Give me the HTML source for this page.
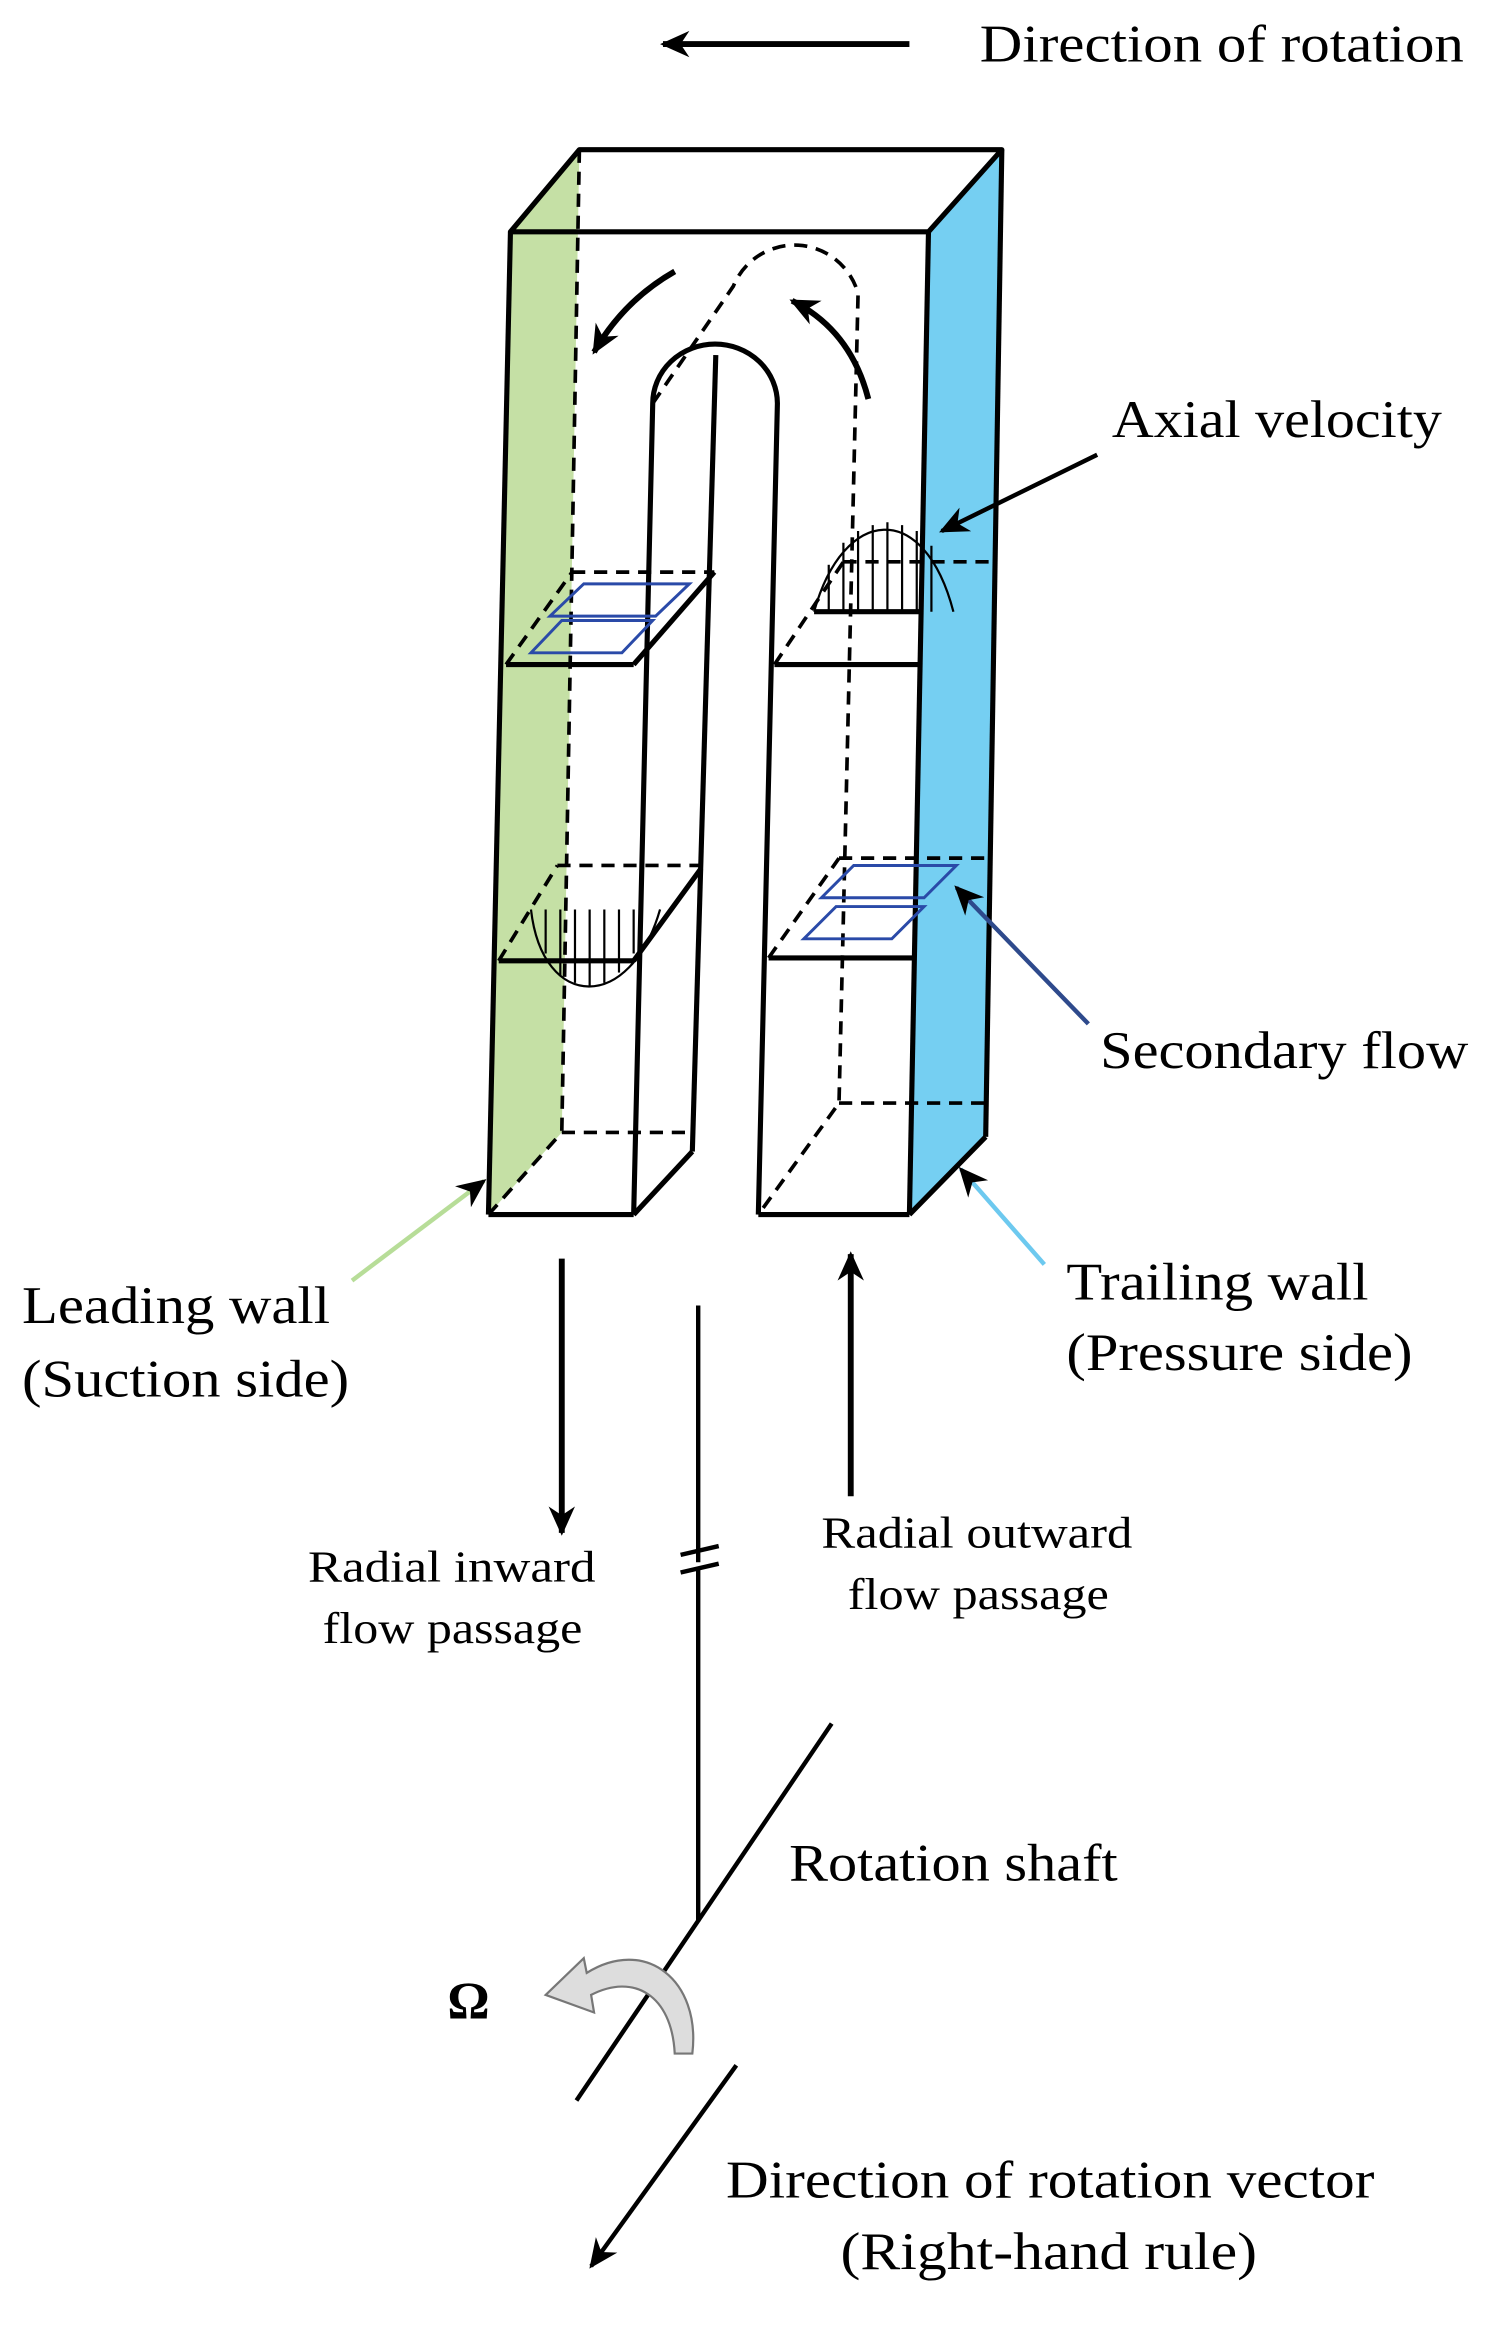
<!DOCTYPE html>
<html><head><meta charset="utf-8"><style>
html,body{margin:0;padding:0;background:#fff;}
svg{display:block;}
text{font-family:"Liberation Serif",serif;fill:#000;}
</style></head><body>
<svg width="1502" height="2325" viewBox="0 0 1024 1585" xmlns="http://www.w3.org/2000/svg">
<defs>
<marker id="ahb" markerWidth="22" markerHeight="22" refX="18" refY="11" orient="auto" markerUnits="userSpaceOnUse"><path d="M0,2 L20,11 L0,20 L6,11 z" fill="#000"/></marker>
</defs>
<polygon points="348,160 395,102 383,772 333,828" fill="#c5e0a5"/>
<polygon points="633,158 683,102 672,775 620,828" fill="#75cff2"/>
<g stroke="#000" stroke-width="3.5" fill="none" stroke-linejoin="round">
<polygon points="348,158 395,102 683,102 633,158"/>
<line x1="348" y1="158" x2="333" y2="828"/>
<line x1="633" y1="158" x2="620" y2="828"/>
<line x1="683" y1="102" x2="672" y2="775"/>
<line x1="333" y1="828" x2="432" y2="828"/>
<line x1="432" y1="828" x2="472" y2="785"/>
<line x1="517" y1="828" x2="620" y2="828"/>
<line x1="620" y1="828" x2="672" y2="775"/>
<path d="M432,828 L445,275 A42,40 0 0 1 530,275 L517,828"/>
<line x1="472" y1="785" x2="488" y2="242"/>
<line x1="345" y1="453" x2="432" y2="453"/>
<line x1="528" y1="453" x2="628" y2="453"/>
<line x1="340" y1="655" x2="432" y2="655"/>
<line x1="524" y1="653" x2="624" y2="653"/>
<line x1="432" y1="453" x2="487" y2="390"/>
<line x1="432" y1="655" x2="478" y2="592"/>
<line x1="555" y1="417" x2="628" y2="417"/>
</g>
<g stroke="#000" stroke-width="2.5" fill="none" stroke-dasharray="9,6">
<line x1="395" y1="102" x2="383" y2="772"/>
<line x1="383" y1="772" x2="472" y2="772"/>
<line x1="333" y1="828" x2="383" y2="772"/>
<path d="M445,275 L500,195 A45,45 0 0 1 585,200 L572,752 L517,828"/>
<line x1="572" y1="752" x2="672" y2="752"/>
<line x1="390" y1="390" x2="487" y2="390"/>
<line x1="345" y1="453" x2="390" y2="390"/>
<line x1="380" y1="590" x2="478" y2="590"/>
<line x1="340" y1="655" x2="380" y2="590"/>
<line x1="575" y1="383" x2="675" y2="383"/>
<line x1="528" y1="453" x2="575" y2="383"/>
<line x1="572" y1="585" x2="674" y2="585"/>
<line x1="524" y1="653" x2="572" y2="585"/>
</g>
<g stroke="#2a4aa8" stroke-width="2" fill="none">
<polygon points="375,420 398,398 470,398 447,420"/>
<polygon points="362,445 383,423 445,423 424,445"/>
<polygon points="560,612 582,590 652,590 630,612"/>
<polygon points="548,640 570,618 630,618 608,640"/>
</g>
<g stroke="#000" stroke-width="1.5" fill="none">
<path d="M555,417 C575,345 630,340 650,417"/>
<path d="M362,620 C370,690 430,690 450,620"/>
<line x1="565" y1="385" x2="565" y2="417"/><line x1="575" y1="370" x2="575" y2="417"/><line x1="585" y1="362" x2="585" y2="417"/><line x1="595" y1="358" x2="595" y2="417"/><line x1="605" y1="356" x2="605" y2="417"/><line x1="615" y1="358" x2="615" y2="417"/><line x1="625" y1="362" x2="625" y2="417"/><line x1="635" y1="372" x2="635" y2="417"/>
<line x1="372" y1="620" x2="372" y2="650"/><line x1="382" y1="620" x2="382" y2="665"/><line x1="392" y1="620" x2="392" y2="670"/><line x1="402" y1="620" x2="402" y2="672"/><line x1="412" y1="620" x2="412" y2="670"/><line x1="422" y1="620" x2="422" y2="663"/><line x1="432" y1="620" x2="432" y2="650"/>
</g>
<g stroke="#000" stroke-width="4" fill="none">
<path d="M460,185 Q425,205 405,240" marker-end="url(#ahb)"/>
<path d="M592,272 Q580,225 540,205" marker-end="url(#ahb)"/>
<line x1="620" y1="30" x2="452" y2="30" marker-end="url(#ahb)"/>
<line x1="383" y1="858" x2="383" y2="1045" marker-end="url(#ahb)"/>
<line x1="580" y1="1020" x2="580" y2="855" marker-end="url(#ahb)"/>
</g>
<g stroke="#000" stroke-width="3" fill="none">
<line x1="748" y1="310" x2="642" y2="362" marker-end="url(#ahb)"/>
<line x1="476" y1="890" x2="476" y2="1065"/>
<line x1="464" y1="1060" x2="490" y2="1054"/>
<line x1="464" y1="1072" x2="490" y2="1066"/>
<line x1="476" y1="1070" x2="476" y2="1310"/>
<line x1="567" y1="1175" x2="393" y2="1432"/>
<line x1="502" y1="1408" x2="403" y2="1545" marker-end="url(#ahb)"/>
</g>
<line x1="742" y1="698" x2="652" y2="605" stroke="#2e4a8c" stroke-width="3" marker-end="url(#ahb)"/>
<line x1="240" y1="873" x2="330" y2="805" stroke="#b7dd98" stroke-width="3" marker-end="url(#ahb)"/>
<line x1="712" y1="862" x2="655" y2="797" stroke="#6dc9ef" stroke-width="3" marker-end="url(#ahb)"/>
<path d="M472,1400 C478,1350 440,1320 400,1345 L398,1335 L372,1360 L405,1372 L403,1360 C432,1345 458,1360 460,1400 Z" fill="#ddd" stroke="#777" stroke-width="1.5"/>
<g lengthAdjust="spacingAndGlyphs">
<text x="668" y="42" font-size="36" textLength="330" lengthAdjust="spacingAndGlyphs">Direction of rotation</text>
<text x="758" y="298" font-size="36" textLength="225" lengthAdjust="spacingAndGlyphs">Axial velocity</text>
<text x="750" y="728" font-size="36" textLength="251" lengthAdjust="spacingAndGlyphs">Secondary flow</text>
<text x="15" y="902" font-size="36" textLength="210" lengthAdjust="spacingAndGlyphs">Leading wall</text>
<text x="15" y="952" font-size="36" textLength="223" lengthAdjust="spacingAndGlyphs">(Suction side)</text>
<text x="727" y="886" font-size="36" textLength="206" lengthAdjust="spacingAndGlyphs">Trailing wall</text>
<text x="727" y="934" font-size="36" textLength="236" lengthAdjust="spacingAndGlyphs">(Pressure side)</text>
<text x="210" y="1078" font-size="30" textLength="196" lengthAdjust="spacingAndGlyphs">Radial inward</text>
<text x="220" y="1120" font-size="30" textLength="177" lengthAdjust="spacingAndGlyphs">flow passage</text>
<text x="560" y="1055" font-size="30" textLength="212" lengthAdjust="spacingAndGlyphs">Radial outward</text>
<text x="578" y="1097" font-size="30" textLength="178" lengthAdjust="spacingAndGlyphs">flow passage</text>
<text x="538" y="1282" font-size="36" textLength="224" lengthAdjust="spacingAndGlyphs">Rotation shaft</text>
<text x="305" y="1376" font-size="36" font-weight="bold">Ω</text>
<text x="495" y="1498" font-size="36" textLength="442" lengthAdjust="spacingAndGlyphs">Direction of rotation vector</text>
<text x="573" y="1547" font-size="36" textLength="284" lengthAdjust="spacingAndGlyphs">(Right-hand rule)</text>
</g>
</svg>
</body></html>
